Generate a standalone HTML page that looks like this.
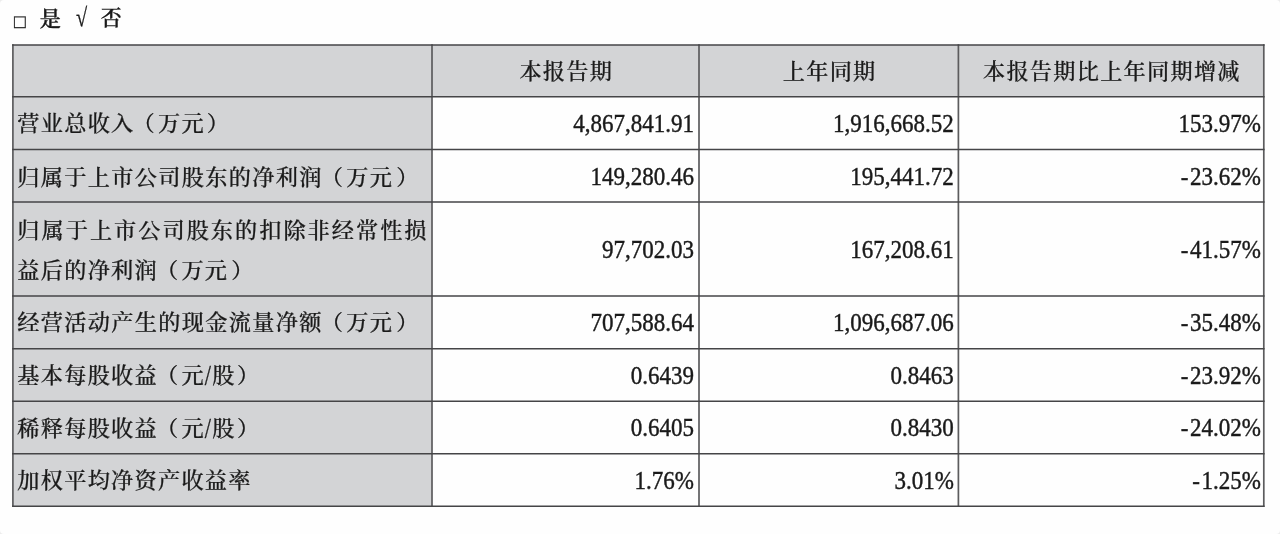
<!DOCTYPE html>
<html lang="zh-CN"><head><meta charset="utf-8"><title>table</title>
<style>
html,body{margin:0;padding:0;}
body{width:1280px;height:534px;background:#ececec;position:relative;overflow:hidden;
 font-family:"Liberation Serif","Noto Serif CJK SC",serif;color:#1a1a1a;}
.g{position:absolute;background:#d3d4d6;}
svg{position:absolute;left:0;top:0;}
.t{position:absolute;white-space:nowrap;font-size:22.2px;letter-spacing:1.25px;line-height:30px;font-weight:500;-webkit-text-stroke:0.25px #1a1a1a;}
.c{text-align:center;}
.n{position:absolute;white-space:nowrap;font-size:23px;line-height:30px;text-align:right;transform:scaleY(1.07);transform-origin:50% 76%;-webkit-text-stroke:0.4px #1a1a1a;}
.l{line-height:47px;}
.t{transform:scaleY(0.96);transform-origin:50% 55%;}
.hy{margin-right:1.7px;}
.sl{display:inline-block;transform:scaleY(1.36);transform-origin:50% 51%;}
.pl{position:relative;left:-2px;}
.pr{position:relative;left:3px;}
.k{position:absolute;white-space:nowrap;font-size:21px;line-height:30px;font-weight:600;-webkit-text-stroke:0.3px #1a1a1a;}
</style></head><body>
<div style="position:absolute;left:0;top:0;width:1280px;height:534px;background:#fefefe;border-radius:4px"></div>

<div class="g" style="left:12.9px;top:45.0px;width:1250.9px;height:51.7px"></div>
<div class="g" style="left:12.9px;top:96.7px;width:419.1px;height:409.5px"></div>
<svg width="1280" height="534" viewBox="0 0 1280 534" stroke="#454547" stroke-width="1.5" stroke-linecap="square"><line x1="12.9" y1="45.0" x2="12.9" y2="506.2" stroke="#5c5c5e" stroke-width="1.7"/><line x1="432.0" y1="45.0" x2="432.0" y2="506.2" stroke="#5c5c5e" stroke-width="1.7"/><line x1="699.0" y1="45.0" x2="699.0" y2="506.2" stroke="#5c5c5e" stroke-width="1.7"/><line x1="958.4" y1="45.0" x2="958.4" y2="506.2" stroke="#5c5c5e" stroke-width="1.7"/><line x1="1263.8" y1="45.0" x2="1263.8" y2="506.2" stroke="#5c5c5e" stroke-width="1.7"/><line x1="12.9" y1="45.0" x2="1263.8" y2="45.0"/><line x1="12.9" y1="96.7" x2="1263.8" y2="96.7"/><line x1="12.9" y1="149.4" x2="1263.8" y2="149.4"/><line x1="12.9" y1="202.0" x2="1263.8" y2="202.0"/><line x1="12.9" y1="296.0" x2="1263.8" y2="296.0"/><line x1="12.9" y1="348.8" x2="1263.8" y2="348.8"/><line x1="12.9" y1="401.3" x2="1263.8" y2="401.3"/><line x1="12.9" y1="453.7" x2="1263.8" y2="453.7"/><line x1="12.9" y1="506.2" x2="1263.8" y2="506.2"/></svg>
<div class="k" style="left:13.9px;top:6.8px;font-size:19px">□</div>
<div class="k" style="left:39.8px;top:3.5px">是</div>
<div class="k" style="left:75.8px;top:2.8px;font-size:26px;transform:scaleX(0.78);transform-origin:0 0">√</div>
<div class="k" style="left:100.8px;top:3.4px">否</div>
<div class="t c" style="left:432.8px;width:267.0px;top:57.2px">本报告期</div>
<div class="t c" style="left:700.0px;width:259.4px;top:57.2px">上年同期</div>
<div class="t c" style="left:959.2px;width:305.4px;top:57.2px">本报告期比上年同期增减</div>
<div class="t" style="left:17.35px;top:109.4px;letter-spacing:1.25px">营业总收入<span class="pl">（</span>万元<span class="pr" style="left:1.8px">）</span></div>
<div class="n" style="left:432.0px;width:262.0px;top:109.9px">4,867,841.91</div>
<div class="n" style="left:699.0px;width:254.8px;top:109.9px">1,916,668.52</div>
<div class="n" style="left:958.4px;width:302.6px;top:109.9px">153.97%</div>
<div class="t" style="left:17.35px;top:162.7px;letter-spacing:1.3px">归属于上市公司股东的净利润<span class="pl">（</span>万元<span class="pr" style="left:3px">）</span></div>
<div class="n" style="left:432.0px;width:262.0px;top:162.5px">149,280.46</div>
<div class="n" style="left:699.0px;width:254.8px;top:162.5px">195,441.72</div>
<div class="n" style="left:958.4px;width:302.6px;top:162.5px"><span class="hy">-</span>23.62%</div>
<div class="t" style="left:17.35px;top:215.6px;letter-spacing:2.0px">归属于上市公司股东的扣除非经常性损</div>
<div class="t" style="left:17.35px;top:256.0px;letter-spacing:1.25px">益后的净利润<span class="pl">（</span>万元<span class="pr" style="left:3px">）</span></div>
<div class="n" style="left:432.0px;width:262.0px;top:235.8px">97,702.03</div>
<div class="n" style="left:699.0px;width:254.8px;top:235.8px">167,208.61</div>
<div class="n" style="left:958.4px;width:302.6px;top:235.8px"><span class="hy">-</span>41.57%</div>
<div class="t" style="left:17.35px;top:308.0px;letter-spacing:1.3px">经营活动产生的现金流量净额<span class="pl">（</span>万元<span class="pr" style="left:3px">）</span></div>
<div class="n" style="left:432.0px;width:262.0px;top:309.2px">707,588.64</div>
<div class="n" style="left:699.0px;width:254.8px;top:309.2px">1,096,687.06</div>
<div class="n" style="left:958.4px;width:302.6px;top:309.2px"><span class="hy">-</span>35.48%</div>
<div class="t" style="left:17.35px;top:361.4px;letter-spacing:1.25px">基本每股收益<span class="pl">（</span>元<span class="sl">/</span>股<span class="pr" style="left:1.4px">）</span></div>
<div class="n" style="left:432.0px;width:262.0px;top:361.9px">0.6439</div>
<div class="n" style="left:699.0px;width:254.8px;top:361.9px">0.8463</div>
<div class="n" style="left:958.4px;width:302.6px;top:361.9px"><span class="hy">-</span>23.92%</div>
<div class="t" style="left:17.35px;top:414.3px;letter-spacing:1.25px">稀释每股收益<span class="pl">（</span>元<span class="sl">/</span>股<span class="pr" style="left:1.4px">）</span></div>
<div class="n" style="left:432.0px;width:262.0px;top:414.3px">0.6405</div>
<div class="n" style="left:699.0px;width:254.8px;top:414.3px">0.8430</div>
<div class="n" style="left:958.4px;width:302.6px;top:414.3px"><span class="hy">-</span>24.02%</div>
<div class="t" style="left:17.35px;top:466.2px;letter-spacing:1.25px">加权平均净资产收益率</div>
<div class="n" style="left:432.0px;width:262.0px;top:467.1px">1.76%</div>
<div class="n" style="left:699.0px;width:254.8px;top:467.1px">3.01%</div>
<div class="n" style="left:958.4px;width:302.6px;top:467.1px"><span class="hy">-</span>1.25%</div>
</body></html>
